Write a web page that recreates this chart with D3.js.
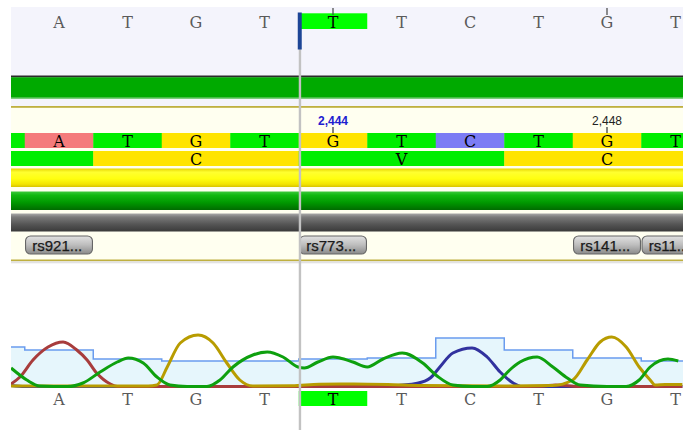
<!DOCTYPE html>
<html><head><meta charset="utf-8">
<script src="https://cdn.jsdelivr.net/npm/d3@7"></script>
<style>html,body{margin:0;padding:0;background:#fff;overflow:hidden}</style>
</head><body><svg id="c" width="683" height="430"></svg>
<script>
// ---------- data ----------
const refBases = ["A","T","G","T","T","T","C","T","G","T"];      // positions 0..9
const refHighlight = [4];
const readStart = -1;
const readBases = ["T","A","T","G","T","G","T","C","T","G","T"]; // positions -1..9
const aaLabels = ["", "C", "V", "C"];
const aaStarts = [-2, 1, 4, 7];
const aaColorKey = ["V", "C", "V", "C"];
const rulerLabels = ["2,444", "2,448"];
const rulerBases = [4, 8];
const snpLabels = ["rs921...", "rs773...", "rs141...", "rs11..."];
const snpBases = [0, 4, 8, 9];
const quality = [40, 37, 28, 26, 26, 28, 29, 49, 37, 29, 26];      // positions -1..9
const cursorPos = 3.5;

const traceA = [[-0.70,3],[-0.57,10],[-0.38,27],[-0.16,40],[0.06,45],[0.26,37],[0.41,27],[0.55,14],[0.75,3],[0.85,0.6],[1.5,0.5],[2.5,0.5],[3.5,0.5],[4.5,0.5],[5.5,0.5],[6.6,0.5],[7.05,0.8],[7.25,2],[7.4,1.5],[7.6,0.5],[8.5,0.5],[9.1,0.5]];
const traceC = [[-0.70,1.5],[-0.5,0.5],[1,0.5],[3,0.5],[4.5,0.5],[4.83,1],[5.23,3.7],[5.42,9],[5.56,20],[5.75,34],[6.03,39],[6.25,30],[6.44,15],[6.63,4],[6.76,0.5],[7.5,0.5],[8.5,0.5],[9.1,0.5]];
const traceG = [[-0.70,1],[0.5,1],[1.3,1],[1.43,2],[1.58,20],[1.77,44],[2.03,52],[2.25,44],[2.45,24],[2.64,7],[2.83,1],[3.4,1.2],[3.8,2.8],[4.3,3],[4.8,2.5],[5.3,1.5],[6.5,1],[7.2,1.5],[7.5,7],[7.71,27],[7.90,45],[8.07,50],[8.28,40],[8.47,20],[8.63,7],[8.70,2],[8.85,2.5],[9.1,2.5]];
const traceT = [[-0.70,19],[-0.47,7],[-0.28,1],[0.12,0.5],[0.35,4],[0.60,15],[0.85,25],[1.01,29],[1.23,24],[1.43,10],[1.62,2],[1.87,0.5],[2.16,0.5],[2.35,7],[2.54,20],[2.83,32],[3.04,35],[3.27,30],[3.49,20],[3.58,19],[3.78,25],[4.0,30],[4.1,29],[4.29,25],[4.50,20],[4.73,28],[5.01,34],[5.31,24],[5.52,11],[5.75,2],[6.03,0.5],[6.25,0.5],[6.44,7],[6.58,17],[6.73,25],[6.98,30],[7.21,20],[7.42,9],[7.61,2],[8.0,0.5],[8.28,0.5],[8.47,7],[8.63,20],[8.89,28],[9.04,26]];

// ---------- styles ----------
const baseColor = {A:"#f47b7b", T:"#00ee00", G:"#ffe400", C:"#7c7cf4"};
const aaColor = {C:"#ffe400", V:"#00ee00"};
const traceColor = {A:"#a83c3c", C:"#32329e", G:"#b89c00", T:"#0ea00e"};
const serifFont = "'DejaVu Serif','Liberation Serif',serif";
const sansFont = "'Liberation Sans',Arial,sans-serif";
const baseSize = 16;

const W = 683, H = 430, L = 11;
const svg = d3.select("#c");
const defs = svg.append("defs");
defs.append("clipPath").attr("id","clip").append("rect").attr("x",L).attr("y",0).attr("width",W-L).attr("height",H);

function grad(id, stops){
  const g = defs.append("linearGradient").attr("id",id).attr("x1",0).attr("y1",0).attr("x2",0).attr("y2",1);
  stops.forEach(s=>g.append("stop").attr("offset",s[0]).attr("stop-color",s[1]));
}
grad("gy", [[0,"#e6d400"],[0.2,"#ffff30"],[0.55,"#ffff10"],[0.85,"#f2e400"],[1,"#d8c400"]]);
grad("gg", [[0,"#3cc83c"],[0.2,"#10b810"],[0.6,"#009800"],[1,"#006c00"]]);
grad("gk", [[0,"#a8a8a8"],[0.2,"#7a7a7a"],[0.6,"#555"],[1,"#3a3a3a"]]);
grad("gb", [[0,"#e2e2e2"],[0.5,"#bdbdbd"],[1,"#8a8a8a"]]);

const x = d3.scaleLinear().domain([0, 9]).range([59, 675.5]);
const cw = x(1) - x(0);
const yT = d3.scaleLinear().domain([0, 50]).range([387, 337]);
const visible = p => x(p) > L && x(p) < W + 20;

const root = svg.append("g").attr("clip-path","url(#clip)");

// ---------- top reference panel ----------
root.append("rect").attr("x",L).attr("y",7).attr("width",W-L).attr("height",99.5).attr("fill","#f4f4fc");
root.selectAll(".refhl").data(refHighlight).join("rect")
  .attr("x",d=>x(d-0.5)).attr("y",13.3).attr("width",cw).attr("height",15.7).attr("fill","#00ff00");
root.selectAll(".reft").data(refBases).join("text")
  .attr("x",(d,i)=>x(i)).attr("y",27.5).attr("text-anchor","middle")
  .attr("font-family",serifFont).attr("font-size",baseSize)
  .attr("fill",(d,i)=>refHighlight.includes(i)?"#000":"#5a5a5a").text(d=>d);
root.selectAll(".toptick").data(rulerBases).join("line")
  .attr("x1",d=>x(d)).attr("x2",d=>x(d)).attr("y1",8).attr("y2",15)
  .attr("stroke","#444").attr("stroke-width",1.2);

// coverage band
root.append("rect").attr("x",L).attr("y",75.5).attr("width",W-L).attr("height",2).attr("fill","#2a2a2a");
root.append("rect").attr("x",L).attr("y",77.3).attr("width",W-L).attr("height",20.5).attr("fill","#00aa00");
root.append("rect").attr("x",L).attr("y",97.7).attr("width",W-L).attr("height",1.3).attr("fill","#7ccc7c");

// ---------- annotation panel ----------
root.append("rect").attr("x",L).attr("y",107).attr("width",W-L).attr("height",154).attr("fill","#fffff0");
root.append("rect").attr("x",L).attr("y",106).attr("width",W-L).attr("height",1.8).attr("fill","#bfb040");
root.append("rect").attr("x",L).attr("y",259.5).attr("width",W-L).attr("height",1.8).attr("fill","#bfb040");
root.append("rect").attr("x",L).attr("y",261.3).attr("width",W-L).attr("height",2).attr("fill","#e2e2e2");

// ruler labels
root.selectAll(".rl").data(rulerLabels).join("text")
  .attr("x",(d,i)=>x(rulerBases[i])).attr("y",124.5).attr("text-anchor","middle")
  .attr("font-family",sansFont).attr("font-size",12)
  .attr("font-weight",(d,i)=>i===0?"bold":"normal")
  .attr("fill",(d,i)=>i===0?"#2020d0":"#222").text(d=>d);
root.selectAll(".rtick").data(rulerBases).join("line")
  .attr("x1",d=>x(d)).attr("x2",d=>x(d)).attr("y1",127).attr("y2",133)
  .attr("stroke","#333").attr("stroke-width",1.2);

// read bases row
const readData = readBases.map((b,i)=>({b, p: readStart + i}));
const rg = root.append("g");
rg.selectAll("rect").data(readData).join("rect")
  .attr("x",d=>x(d.p-0.5)).attr("y",133).attr("width",cw+0.3).attr("height",15)
  .attr("fill",d=>baseColor[d.b]);
rg.selectAll("text").data(readData.filter(d=>visible(d.p))).join("text")
  .attr("x",d=>x(d.p)).attr("y",146.5).attr("text-anchor","middle")
  .attr("font-family",serifFont).attr("font-size",baseSize).attr("fill","#000").text(d=>d.b);

// translation row
const aaData = aaLabels.map((a,i)=>({a, s: aaStarts[i], k: aaColorKey[i]}));
const ag = root.append("g");
ag.selectAll("rect").data(aaData).join("rect")
  .attr("x",d=>x(d.s-0.5)).attr("y",151).attr("width",cw*3+0.3).attr("height",15)
  .attr("fill",d=>aaColor[d.k]);
ag.selectAll("text").data(aaData.filter(d=>d.a && visible(d.s+1))).join("text")
  .attr("x",d=>x(d.s+1)).attr("y",164.5).attr("text-anchor","middle")
  .attr("font-family",serifFont).attr("font-size",baseSize).attr("fill","#000").text(d=>d.a);

// feature bars
root.append("rect").attr("x",L).attr("y",168.5).attr("width",W-L).attr("height",18.5).attr("fill","url(#gy)");
root.append("rect").attr("x",L).attr("y",191.5).attr("width",W-L).attr("height",18.5).attr("fill","url(#gg)");
root.append("rect").attr("x",L).attr("y",213.5).attr("width",W-L).attr("height",18).attr("fill","url(#gk)");

// SNP buttons
const snpData = snpLabels.map((t,i)=>({t, p: snpBases[i]}));
const sg = root.selectAll(".snp").data(snpData).join("g");
sg.append("rect")
  .attr("x",d=>x(d.p-0.5)+0.8).attr("y",236).attr("width",cw-1.6).attr("height",18)
  .attr("rx",5).attr("fill","url(#gb)").attr("stroke","#666").attr("stroke-width",1.1);
sg.append("text")
  .attr("x",d=>x(d.p-0.5)+7.5).attr("y",250.5)
  .attr("font-family",sansFont).attr("font-size",15).attr("fill","#1a1a1a")
  .attr("stroke","#1a1a1a").attr("stroke-width",0.25).text(d=>d.t);

// ---------- chromatogram ----------
const qPts = quality.map((q,i)=>[x(i-1-0.5), yT(q)]);
qPts.push([x(quality.length-1-1+0.5), yT(quality[quality.length-1])]);
root.append("path").attr("d",d3.area().curve(d3.curveStepAfter).x(d=>d[0]).y0(yT(0)).y1(d=>d[1])(qPts)).attr("fill","#e6f6fc");
root.append("path").attr("d",d3.line().curve(d3.curveStepAfter).x(d=>d[0]).y(d=>d[1])(qPts))
  .attr("fill","none").attr("stroke","#6a9cee").attr("stroke-width",1.5);

const tl = d3.line().curve(d3.curveMonotoneX).x(d=>x(d[0])).y(d=>yT(d[1]));
[["C",traceC],["A",traceA],["G",traceG],["T",traceT]].forEach(([b,t])=>{
  root.append("path").attr("d",tl(t)).attr("fill","none")
    .attr("stroke",traceColor[b]).attr("stroke-width",3).attr("stroke-linejoin","round");
});

root.selectAll(".bhl").data(refHighlight).join("rect")
  .attr("x",d=>x(d-0.5)).attr("y",391).attr("width",cw).attr("height",15).attr("fill","#00ff00");
root.selectAll(".bt").data(refBases).join("text")
  .attr("x",(d,i)=>x(i)).attr("y",405).attr("text-anchor","middle")
  .attr("font-family",serifFont).attr("font-size",baseSize)
  .attr("fill",(d,i)=>refHighlight.includes(i)?"#000":"#5a5a5a").text(d=>d);

// ---------- cursor ----------
const cx = x(cursorPos) + 1.2;
root.append("line").attr("x1",cx).attr("x2",cx).attr("y1",48).attr("y2",H)
  .attr("stroke","#c2c2c2").attr("stroke-width",2.4);
root.append("rect").attr("x",cx-2.2).attr("y",12.5).attr("width",4).attr("height",37).attr("fill","#1d4596");
</script></body></html>
